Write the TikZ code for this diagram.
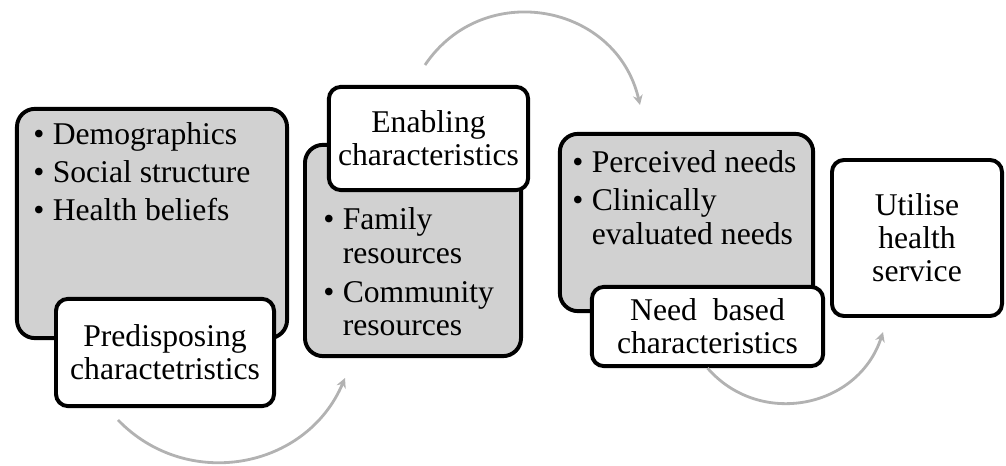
\documentclass[tikz,border=0pt]{standalone}
\usepackage{fontspec}
\setmainfont{Liberation Serif}
\usetikzlibrary{arrows.meta}
\begin{document}
\begin{tikzpicture}[x=0.025cm, y=0.025cm, >={Stealth[length=7pt,width=7pt]}, font=\fontsize{22.5}{23.5}\selectfont]
  \tikzset{panel/.style={draw, line width=2.8pt, rounded corners=0.45cm, fill=black!18},
    tag/.style={draw, line width=2.8pt, rounded corners=0.3cm, fill=white, align=center, inner sep=0pt},
    flow/.style={draw=black!30, line width=2pt, ->}}
  \useasboundingbox (0,0) rectangle (1006,466);
  % grey panels with their lists
  \node[panel, minimum width=6.75cm, minimum height=5.73cm] (pre) at (152,242.5) {};
  \node[anchor=base west, inner sep=0pt] (prelist) at (33,321) {\begin{tabular}[t]{@{}l@{\hspace{6pt}}l@{}}
    \textbullet & Demographics\\[3.5pt]
    \textbullet & Social structure\\[3.5pt]
    \textbullet & Health beliefs\end{tabular}};
  \node[panel, minimum width=5.4cm, minimum height=5.28cm] (ena) at (413,215.5) {};
  \node[anchor=base west, inner sep=0pt] (enalist) at (323,236) {\begin{tabular}[t]{@{}l@{\hspace{6pt}}l@{}}
    \textbullet & Family\\
     & resources\\[4.5pt]
    \textbullet & Community\\
     & resources\end{tabular}};
  \node[panel, minimum width=6.33cm, minimum height=4.43cm] (need) at (686.5,243.5) {};
  \node[anchor=base west, inner sep=0pt] (needlist) at (572,293) {\begin{tabular}[t]{@{}l@{\hspace{6pt}}l@{}}
    \textbullet & Perceived needs\\[3.5pt]
    \textbullet & Clinically\\
     & evaluated needs\end{tabular}};
  % white labels
  \node[tag, minimum width=5.45cm, minimum height=2.68cm] (pretag) at (165,113.5) {Predisposing\\charactetristics};
  \node[tag, minimum width=4.98cm, minimum height=2.58cm] (enatag) at (428.5,327.5) {Enabling\\characteristics};
  \node[tag, minimum width=5.78cm, minimum height=1.98cm] (needtag) at (707.5,139.5) {Need\ \ based\\characteristics};
  \node[tag, minimum width=4.25cm, minimum height=3.9cm] (use) at (917,228) {Utilise\\health\\service};
  % curved arrows
  \coordinate (a1s) at (118,46);
  \coordinate (a1e) at (345,88);
  \coordinate (a2s) at (425,401);
  \coordinate (a2e) at (640,361);
  \coordinate (a3e) at (883,134);
  \draw[flow] (a1s) to[out=-46, in=-113, looseness=1.1] (a1e);
  \draw[flow] (a2s) to[out=56, in=103, looseness=1.22] (a2e);
  \draw[flow] (needtag.south) to[out=-49, in=-108, looseness=1.14] (a3e);
\end{tikzpicture}
\end{document}
